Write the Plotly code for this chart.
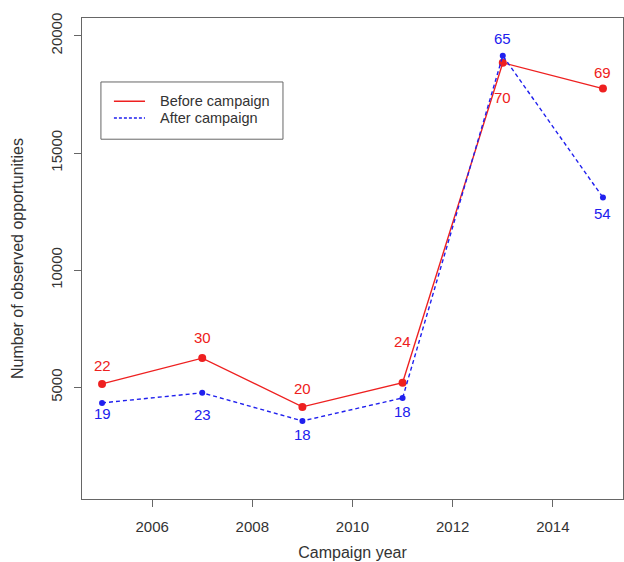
import plotly.graph_objects as go

# Campaign years and observed opportunity counts
years = [2005, 2007, 2009, 2011, 2013, 2015]
before_counts = [5150, 6250, 4170, 5200, 18850, 17750]
after_counts = [4340, 4770, 3570, 4550, 19150, 13100]

# Numbers printed beside each point
before_labels = ["22", "30", "20", "24", "70", "69"]
after_labels = ["19", "23", "18", "18", "65", "54"]

# Vertical pixel offsets for the printed numbers (positive = above the point)
before_shift = [18, 21, 18, 41, -35, 16]
after_shift = [-11, -22, -14, -14, 17, -16]

# Axis ticks
x_ticks = [2006, 2008, 2010, 2012, 2014]
y_ticks = [5000, 10000, 15000, 20000]
y_tick_text = ["5000", "10000", "15000", "20000"]

series_names = ["Before campaign", "After campaign"]

RED = "#ee2020"
BLUE = "#2020ee"
AXIS = "#666666"
TEXT = "#333333"
FONT = "Liberation Sans, Arial, sans-serif"

fig = go.Figure()
fig.add_trace(go.Scatter(
    x=years, y=before_counts, mode="lines+markers", name=series_names[0],
    line=dict(color=RED, width=1.4),
    marker=dict(color=RED, size=8),
    showlegend=False,
))
fig.add_trace(go.Scatter(
    x=years, y=after_counts, mode="lines+markers", name=series_names[1],
    line=dict(color=BLUE, width=1.4, dash="4px,3px"),
    marker=dict(color=BLUE, size=6),
    showlegend=False,
))

annotations = []
for x, y, t, s in zip(years, before_counts, before_labels, before_shift):
    annotations.append(dict(x=x, y=y, text=t, showarrow=False, yshift=s,
                            font=dict(color=RED, size=15, family=FONT)))
for x, y, t, s in zip(years, after_counts, after_labels, after_shift):
    annotations.append(dict(x=x, y=y, text=t, showarrow=False, yshift=s,
                            font=dict(color=BLUE, size=15, family=FONT)))

# Boxed key with line samples (paper coordinates)
key_box = dict(x0=0.035, x1=0.3715, y0=0.748, y1=0.867)
key_rows = [0.827, 0.792]
key_line_x = (0.059, 0.1165)
key_text_x = 0.1405
shapes = [dict(type="rect", xref="paper", yref="paper", **key_box,
               line=dict(color=AXIS, width=1), fillcolor="white", layer="above")]
for row, color, dash in zip(key_rows, [RED, BLUE], ["solid", "3px,2px"]):
    shapes.append(dict(type="line", xref="paper", yref="paper",
                       x0=key_line_x[0], x1=key_line_x[1], y0=row, y1=row,
                       line=dict(color=color, width=1.4, dash=dash), layer="above"))
for row, name in zip(key_rows, series_names):
    annotations.append(dict(xref="paper", yref="paper", x=key_text_x, y=row,
                            xanchor="left", yanchor="middle", text=name, showarrow=False,
                            font=dict(size=14.5, color=TEXT, family=FONT)))

axis_common = dict(
    showline=True, mirror=True, linecolor=AXIS, linewidth=1,
    ticks="outside", ticklen=7, tickcolor=AXIS,
    showgrid=False, zeroline=False,
    tickfont=dict(size=15, color=TEXT, family=FONT),
)

fig.update_layout(
    width=624, height=562,
    margin=dict(l=82, r=1, t=18, b=63),
    paper_bgcolor="white", plot_bgcolor="white",
    font=dict(family=FONT, color=TEXT),
    showlegend=False,
    xaxis=dict(
        range=[2004.6, 2015.4],
        tickvals=x_ticks,
        ticklabelstandoff=7,
        title=dict(text="Campaign year", font=dict(size=16, color=TEXT), standoff=12),
        **axis_common,
    ),
    yaxis=dict(
        range=[240, 20760],
        tickvals=y_ticks,
        ticktext=y_tick_text,
        tickangle=-90,
        ticklabelstandoff=6,
        title=dict(text="Number of observed opportunities", font=dict(size=16, color=TEXT), standoff=20),
        **axis_common,
    ),
    shapes=shapes,
    annotations=annotations,
)

fig.write_html("out.html")
